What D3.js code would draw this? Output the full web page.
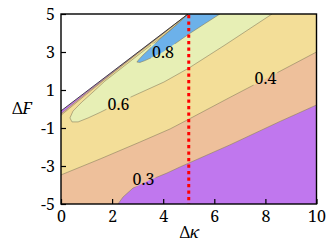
<!DOCTYPE html>
<html>
<head>
<meta charset="utf-8">
<script src="https://cdn.jsdelivr.net/npm/d3@7"></script>
<style>
  html, body { margin: 0; padding: 0; background: #fff; }
  svg { display: block; }
</style>
</head>
<body>
<div id="chart"></div>
<script>
// axis ticks
var kappaTicks = [0, 2, 4, 6, 8, 10];
var fTicks = [-5, -3, -1, 1, 3, 5];

// contour levels and where their labels sit, in [dKappa, dF]
var levels = [0.3, 0.4, 0.6, 0.8];
var labelAt = [[3.23, -3.68], [8.0, 1.63], [2.25, 0.26], [3.99, 3.0]];

// edge of the computed domain (nothing above it)
var edge = [[0, -0.1], [4.97, 5]];

// contour lines, [dKappa, dF]
var c03 = [[2.23, -5], [2.43, -4.63], [2.82, -4.16], [3.48, -3.74], [4.15, -3.37], [4.66, -3.05],
           [5.01, -2.84], [6.61, -1.89], [8.53, -0.68], [10, 0.21]];
var c03Upper = [[0, -0.25], [1, 0.85], [2, 1.9], [3, 2.95], [4, 3.98], [4.97, 5]];
var c04 = [[0, -3.47], [1.53, -2.63], [3.09, -1.74], [4.27, -1.05], [5.01, -0.53], [6.61, 0.61],
           [8.18, 1.71], [10, 3.0]];
var c04Upper = [[0, -0.33], [1, 0.78], [2, 1.86], [3, 2.92], [4, 3.96], [4.97, 5]];
var c06 = [[4.97, 5], [4.27, 4.13], [3.48, 3.32], [2.5, 2.29], [1.72, 1.47], [1.21, 0.84], [0.82, 0.37],
           [0.47, -0.11], [0.35, -0.47], [0.43, -0.68], [0.67, -0.68], [1.06, -0.47], [1.53, -0.18],
           [2.11, 0.21], [2.7, 0.61], [4.03, 1.42], [5.01, 2.16], [6.42, 3.37], [8.26, 5]];
var c08 = [[4.97, 5], [4.58, 4.5], [4.19, 4.06], [3.87, 3.68], [3.48, 3.18], [3.21, 2.84], [3.05, 2.61],
           [2.97, 2.47], [3.09, 2.45], [3.29, 2.55], [3.68, 2.79], [3.99, 3.0], [4.5, 3.47],
           [5.01, 3.95], [5.64, 4.5], [6.22, 5]];

// the dotted marker line
var markKappa = 5;

var fills = ["#c077ee", "#eec09b", "#f3de98", "#e7efb5", "#6cb1ea"];
var serif = "'Noto Serif', 'DejaVu Serif', serif";
var fontSize = 16;

var width = 334, height = 244;

var x = d3.scaleLinear().domain([0, 10]).range([61, 316.5]);
var y = d3.scaleLinear().domain([-5, 5]).range([204, 14]);
var x0 = x.domain()[0], x1 = x.domain()[1], y0 = y.domain()[0], y1 = y.domain()[1];

var svg = d3.select("#chart").append("svg")
    .attr("width", width).attr("height", height)
    .attr("font-family", serif);

var defs = svg.append("defs");
defs.append("clipPath").attr("id", "plotClip")
  .append("rect")
    .attr("x", x(x0)).attr("y", y(y1))
    .attr("width", x(x1) - x(x0)).attr("height", y(y0) - y(y1));

var line = d3.line().x(function (d) { return x(d[0]); }).y(function (d) { return y(d[1]); });

var plot = svg.append("g").attr("clip-path", "url(#plotClip)");

// filled bands, lowest first
var regions = [
    [[x0, y0], [x1, y0], [x1, y1]].concat(edge.slice().reverse()),
    c03.concat([[x1, y1]], c03Upper.slice().reverse(), [[x0, y0]]),
    c04.concat([[x1, y1]], c04Upper.slice().reverse()),
    c06,
    c08
];
plot.selectAll("path.band").data(regions).enter().append("path")
    .attr("class", "band")
    .attr("d", function (d) { return line(d) + "Z"; })
    .attr("fill", function (d, i) { return fills[i]; })
    .attr("stroke", "none");

// labels first so their boxes can cut the lines
var labels = svg.append("g");
labels.selectAll("text").data(levels).enter().append("text")
    .attr("x", function (d, i) { return x(labelAt[i][0]); })
    .attr("y", function (d, i) { return y(labelAt[i][1]); })
    .attr("dy", "0.35em")
    .attr("text-anchor", "middle")
    .attr("font-family", serif)
    .attr("font-size", fontSize)
    .attr("fill", "#000")
    .text(function (d) { return d.toFixed(1); });

var mask = defs.append("mask").attr("id", "lblMask").attr("maskUnits", "userSpaceOnUse")
    .attr("x", 0).attr("y", 0).attr("width", width).attr("height", height);
mask.append("rect").attr("width", width).attr("height", height).attr("fill", "#fff");
labels.selectAll("text").each(function () {
    var b = this.getBBox();
    mask.append("rect")
        .attr("x", b.x - 1).attr("y", b.y + 3)
        .attr("width", b.width + 2).attr("height", b.height - 6)
        .attr("fill", "#000");
});

var lines = plot.append("g").attr("mask", "url(#lblMask)");
lines.selectAll("path").data([c03, c03Upper, c04, c04Upper, c06, c08]).enter().append("path")
    .attr("d", line)
    .attr("fill", "none")
    .attr("stroke", "#8a8060")
    .attr("stroke-width", 0.6);

plot.append("path")
    .attr("d", line(edge))
    .attr("fill", "none")
    .attr("stroke", "#333")
    .attr("stroke-width", 0.9);

labels.raise();

// dotted marker at dKappa = 5
svg.append("line")
    .attr("x1", x(markKappa)).attr("x2", x(markKappa))
    .attr("y1", y(y1) + 1).attr("y2", y(y0))
    .attr("stroke", "#ff0000")
    .attr("stroke-width", 3)
    .attr("stroke-dasharray", "3.2,3.3");

// axes, ticks pointing inward
var xAxis = svg.append("g")
    .attr("transform", "translate(0," + y(y0) + ")")
    .call(d3.axisBottom(x).tickValues(kappaTicks).tickSizeInner(-5).tickSizeOuter(0)
        .tickPadding(6.5).tickFormat(function (d) { return String(d); }));
var yAxis = svg.append("g")
    .attr("transform", "translate(" + x(x0) + ",0)")
    .call(d3.axisLeft(y).tickValues(fTicks).tickSizeInner(-5).tickSizeOuter(0)
        .tickPadding(6).tickFormat(function (d) { return String(d); }));

[xAxis, yAxis].forEach(function (a) {
    a.attr("font-family", serif).attr("font-size", fontSize);
    a.select(".domain").remove();
    a.selectAll(".tick line").attr("stroke", "#000").attr("stroke-width", 1.2);
    a.selectAll(".tick text").attr("fill", "#000");
});

// frame
svg.append("rect")
    .attr("x", x(x0)).attr("y", y(y1))
    .attr("width", x(x1) - x(x0)).attr("height", y(y0) - y(y1))
    .attr("fill", "none")
    .attr("stroke", "#000")
    .attr("stroke-width", 1.4);

// axis titles
var xt = svg.append("text")
    .attr("x", 189.5)
    .attr("y", 238)
    .attr("text-anchor", "middle")
    .attr("font-size", fontSize);
xt.append("tspan").text("Δ");
xt.append("tspan").attr("font-style", "italic").text("κ");

var yt = svg.append("text")
    .attr("x", 22)
    .attr("y", 114)
    .attr("text-anchor", "middle")
    .attr("font-size", fontSize);
yt.append("tspan").text("Δ");
yt.append("tspan").attr("font-style", "italic").text("F");
</script>
</body>
</html>
